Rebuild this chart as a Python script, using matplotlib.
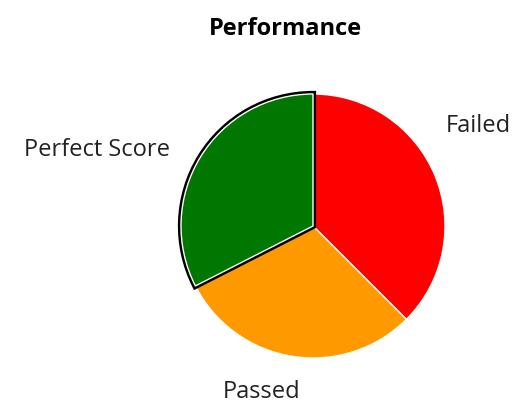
import matplotlib.pyplot as plt
import matplotlib.patheffects as pe

labels = ["Failed", "Passed", "Perfect Score"]
counts = [15, 12, 13]
colors = ["#ff0000", "#ff9900", "#007700"]

# label anchor positions in pie units (radius = 1)
label_pos = [(1.25, 0.755), (-0.39, -1.255), (-1.64, 0.575)]

plt.rcParams["font.family"] = ["Open Sans", "DejaVu Sans"]

fig = plt.figure(figsize=(5.23, 4.16), dpi=100)
cx, cy, r = 313 / 523, 1 - 226 / 416, 132
ax = fig.add_axes([cx - r / 523, cy - r / 416, 2 * r / 523, 2 * r / 416])

wedges, _ = ax.pie(counts, colors=colors, startangle=90, counterclock=False,
                   wedgeprops=dict(edgecolor="white", linewidth=1))
ax.set_xlim(-1, 1)
ax.set_ylim(-1, 1)

# highlighted slice
wedges[2].set_path_effects([pe.Stroke(linewidth=4.5, foreground="black"), pe.Normal()])
wedges[2].set_zorder(5)

for lab, (x, y) in zip(labels, label_pos):
    ax.text(x, y, lab, ha="center", va="center", fontsize=17, color="#222222", clip_on=False)

fig.text(285 / 523, 1 - 29 / 416, "Performance", ha="center", va="center",
         fontsize=17, fontweight="bold", color="black")

fig.savefig("out.png", dpi=100)
